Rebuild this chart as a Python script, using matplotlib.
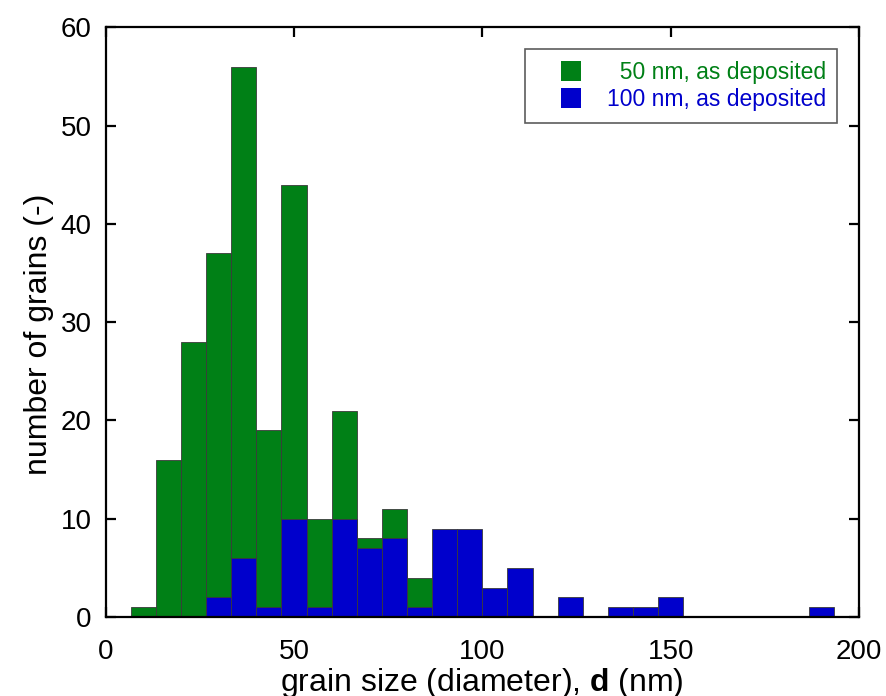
import numpy as np
import matplotlib
matplotlib.use("Agg")
import matplotlib.pyplot as plt
from matplotlib.patches import Patch, Rectangle
from matplotlib.legend_handler import HandlerPatch

# bins are 200/30 nm wide, starting at 0
bin_width = 200 / 30
n_bins = 30

# counts per bin (index = bin number)
counts_50nm = [0, 1, 16, 28, 37, 56, 19, 44, 10, 21, 8, 11, 4, 0, 0,
               0, 0, 0, 0, 0, 0, 0, 0, 0, 0, 0, 0, 0, 0, 0]
counts_100nm = [0, 0, 0, 0, 2, 6, 1, 10, 1, 10, 7, 8, 1, 9, 9,
                3, 5, 0, 2, 0, 1, 1, 2, 0, 0, 0, 0, 0, 1, 0]

labels = ["  50 nm, as deposited", "100 nm, as deposited"]
green = "#008016"
blue = "#0000CC"

plt.rcParams["font.family"] = ["Liberation Sans", "DejaVu Sans"]
plt.rcParams["mathtext.fontset"] = "custom"
plt.rcParams["mathtext.rm"] = "Liberation Sans"
plt.rcParams["mathtext.bf"] = "Liberation Sans:bold"

fig = plt.figure(figsize=(8.87, 6.96), dpi=100)
ax = fig.add_axes([0.1192, 0.1135, 0.9684 - 0.1192, 0.9608 - 0.1135])

left_edges = np.arange(n_bins) * bin_width
ax.bar(left_edges, counts_50nm, width=bin_width, align="edge",
       color=green, edgecolor="#3a3a3a", linewidth=0.6, zorder=2)
ax.bar(left_edges, counts_100nm, width=bin_width, align="edge",
       color=blue, edgecolor="#3a3a3a", linewidth=0.6, zorder=3)

ax.set_xlim(0, 200)
ax.set_ylim(0, 60)
ax.set_xticks([0, 50, 100, 150, 200])
ax.set_yticks(range(0, 61, 10))
ax.tick_params(direction="in", top=True, right=True, length=7.5, width=1.6,
               labelsize=20)
ax.tick_params(axis="x", pad=16)
ax.tick_params(axis="y", pad=10)
for sp in ax.spines.values():
    sp.set_linewidth(1.6)
    sp.set_zorder(5)

ax.set_xlabel(r"grain size (diameter), $\mathbf{d}$ (nm)", fontsize=23, labelpad=0.5)
ax.set_ylabel("number of grains (-)", fontsize=23)
ax.yaxis.set_label_coords(-0.069, 0.48)


# square handle drawn at the right end of the handle area
def square_patch(legend, orig_handle, xdescent, ydescent, width, height, fontsize):
    return Rectangle((width - height - xdescent, -ydescent), height, height)


handles = [Patch(facecolor=green, edgecolor="none"),
           Patch(facecolor=blue, edgecolor="none")]
leg = ax.legend(handles, labels, loc="upper right", fontsize=16.5,
                frameon=True, fancybox=False, borderaxespad=0.95,
                handlelength=1.95, handleheight=0.96, handletextpad=1.1,
                borderpad=0.5, labelspacing=0.2,
                handler_map={Patch: HandlerPatch(patch_func=square_patch)})
leg.get_frame().set_edgecolor("#333333")
leg.get_frame().set_linewidth(1.2)
leg.get_texts()[0].set_color(green)
leg.get_texts()[1].set_color(blue)
leg.set_zorder(6)

fig.savefig("out.png", dpi=100)
